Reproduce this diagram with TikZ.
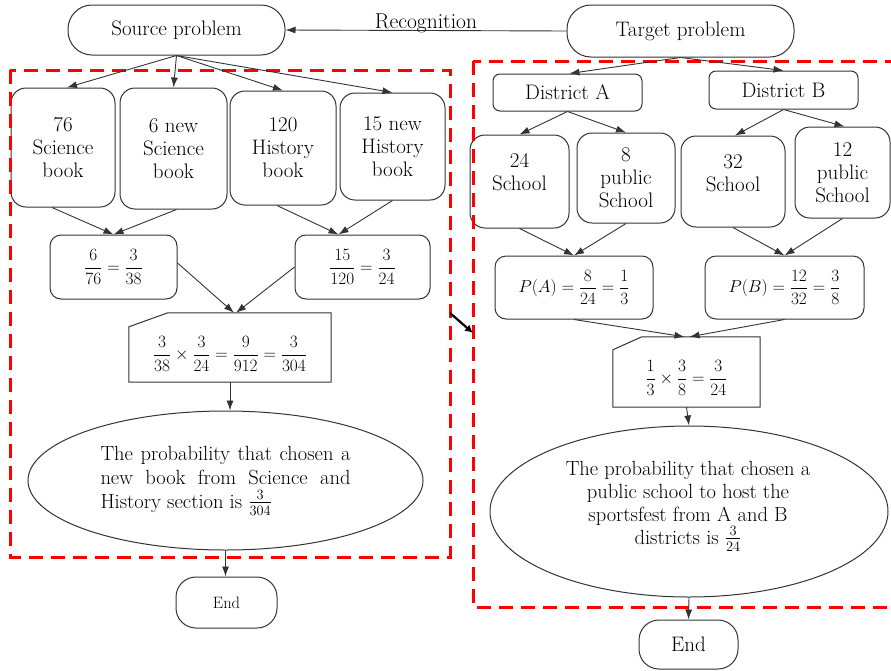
\documentclass[tikz,border=0pt]{standalone}
\usepackage{amsmath}
\usetikzlibrary{arrows.meta,shapes.geometric}
\definecolor{ln}{HTML}{333333}
\tikzset{
 sz/.style 2 args={minimum width=#1pt, minimum height=#2pt},
 base/.style={draw=ln, line width=1pt, inner sep=0pt, align=center, font=\fontsize{21}{23}\selectfont},
 bookbox/.style={base, rounded corners=15pt},
 fracbox/.style={base, rounded corners=11pt, font=\fontsize{17.5}{20}\selectfont},
 distbox/.style={base, rounded corners=7pt},
 stad/.style={base, rounded corners=24pt},
 endbox/.style={base, rounded corners=20pt},
 cardbox/.style={inner sep=0pt},
 cardline/.style={draw=ln, line width=1pt},
 txt/.style={inner sep=0pt, align=center, font=\fontsize{21}{23}\selectfont},
 mtxt/.style={inner sep=0pt, font=\fontsize{17.5}{20}\selectfont},
 oval/.style={ellipse, draw=ln, line width=1pt, inner sep=0pt},
 arr/.style={draw=ln, line width=0.9pt, -{Latex[length=10pt,width=7pt]}},
 reddash/.style={draw=red, line width=3pt, dash pattern=on 14pt off 8pt},
 jump/.style={draw=black, line width=2.2pt, -{Latex[length=8pt,width=8pt]}},
}
\begin{document}
\begin{tikzpicture}[x=1pt,y=-1pt]
\useasboundingbox (0,0) rectangle (891,670);
\clip (0,0) rectangle (891,670);

% top
\node[stad, sz={217}{50}] (src) at (176.5,30) {Source problem};
\node[stad, sz={227}{52}] (tgt) at (680.5,31) {Target problem};

% left side
\node[bookbox, sz={104}{119}] (b1) at (63,147.5) {76\\Science\\book};
\node[bookbox, sz={107}{121}] (b2) at (173.5,148.5) {6 new\\Science\\book};
\node[bookbox, sz={106}{114}] (b3) at (283,148) {120\\History\\book};
\node[bookbox, sz={105}{107}] (b4) at (392.5,146.5) {15 new\\History\\book};

\node[fracbox, sz={127}{64}] (f1) at (113.5,267) {$\dfrac{6}{76}=\dfrac{3}{38}$};
\node[fracbox, sz={135}{64}] (f2) at (362.5,267) {$\dfrac{15}{120}=\dfrac{3}{24}$};

\node[cardbox, sz={202}{69}] (p1) at (230,347.5) {};
\draw[cardline] ([yshift=-14pt]p1.north west) -- ([xshift=39pt]p1.north west) -- (p1.north east) -- (p1.south east) -- (p1.south west) -- cycle;
\node[mtxt] (p1t) at (230,354) {$\dfrac{3}{38}\times\dfrac{3}{24}=\dfrac{9}{912}=\dfrac{3}{304}$};

\node[oval, sz={395}{139}, font=\fontsize{20.5}{24}\selectfont, text width=250pt, align=justify] (e1) at (225.5,480.5) {The probability that chosen a\linebreak new book from Science and\linebreak History section is $\frac{3}{304}$};

\node[endbox, sz={101}{51}, font=\fontsize{16.5}{18}\selectfont] (end1) at (226.5,602.5) {End};

% right side
\node[distbox, sz={149}{37}] (dA) at (567.5,92.5) {District A};
\node[distbox, sz={149}{38}] (dB) at (783.5,90) {District B};
\node[bookbox, sz={99}{93}] (s1) at (519.5,181.5) {};
\node[txt] (s1t) at (519.5,172.5) {24\\School};
\node[bookbox, sz={98}{90}] (s2) at (626,178) {8\\public\\School};
\node[bookbox, sz={104}{91}] (s3) at (733,181.5) {};
\node[txt] (s3t) at (733,173.5) {32\\School};
\node[bookbox, sz={95}{91}] (s4) at (842.5,172.5) {12\\public\\School};

\node[fracbox, sz={158}{63}] (pa) at (574,287.5) {$P(A)=\dfrac{8}{24}=\dfrac{1}{3}$};
\node[fracbox, sz={159}{63}] (pb) at (784.5,287.5) {$P(B)=\dfrac{12}{32}=\dfrac{3}{8}$};

\node[cardbox, sz={147}{70}] (p2) at (686.5,372) {};
\draw[cardline] ([yshift=-13pt]p2.north west) -- ([xshift=29pt]p2.north west) -- (p2.north east) -- (p2.south east) -- (p2.south west) -- cycle;
\node[mtxt] (p2t) at (686.5,378) {$\dfrac{1}{3}\times\dfrac{3}{8}=\dfrac{3}{24}$};

\node[oval, sz={398}{171}] (e2) at (689,511.5) {};
\node[txt, font=\fontsize{20.5}{23}\selectfont] (e2t) at (688,506) {The probability that chosen a\\public school to host the\\sportsfest from A and B\\districts is $\frac{3}{24}$};

\node[endbox, sz={99}{49}] (end2) at (688.5,644.5) {End};

% red dashed frames
\draw[reddash] (10,70) rectangle (450,557);
\draw[reddash] (473,61) rectangle (910,607);

% connectors
\draw[arr] (tgt.west) -- node[midway, anchor=south, inner sep=0pt, yshift=-2.5pt, font=\fontsize{21.5}{23}\selectfont] (rec) {Recognition} (src.east);

\draw[arr] (src.south) -- ([xshift=4pt]b1.north);
\draw[arr] (src.south) -- (b2.north);
\draw[arr] (src.south) -- (b3.north);
\draw[arr] (src.south) -- (b4.north);

\draw[arr] ([xshift=-11pt]b1.south) -- (f1.north);
\draw[arr] ([xshift=3pt]b2.south) -- (f1.north);
\draw[arr] ([xshift=-6pt]b3.south) -- ([xshift=-24pt]f2.north);
\draw[arr] (b4.south) -- ([xshift=-24pt]f2.north);

\draw[arr] ([yshift=4pt]f1.east) -- ([xshift=4pt]p1.north);
\draw[arr] (f2.west) -- ([xshift=6pt]p1.north);
\draw[arr] (p1.south) -- (p1.south |- e1.north);
\draw[arr] (e1.south) -- (e1.south |- end1.north);

\draw[arr] (tgt.south) -- ([xshift=2pt]dA.north);
\draw[arr] (tgt.south) -- (dB.north);
\draw[arr] (dA.south) -- (s1.north);
\draw[arr] (dA.south) -- (s2.north);
\draw[arr] (dB.south) -- ([xshift=2pt]s3.north);
\draw[arr] (dB.south) -- ([xshift=2pt]s4.north);

\draw[arr] (s1.south) -- (pa.north);
\draw[arr] (s2.south) -- (pa.north);
\draw[arr] (s3.south) -- (pb.north);
\draw[arr] (s4.south) -- (pb.north);

\draw[arr] (pa.south) -- ([xshift=-2pt]p2.north);
\draw[arr] (pb.south) -- ([xshift=3pt]p2.north);
\draw[arr] (p2.south) -- (e2.north);
\draw[arr] (e2.south) -- (end2.north);

\coordinate (ja) at (450,313);
\coordinate (jb) at (473,333);
\draw[jump] (ja) -- (jb);
\end{tikzpicture}
\end{document}
